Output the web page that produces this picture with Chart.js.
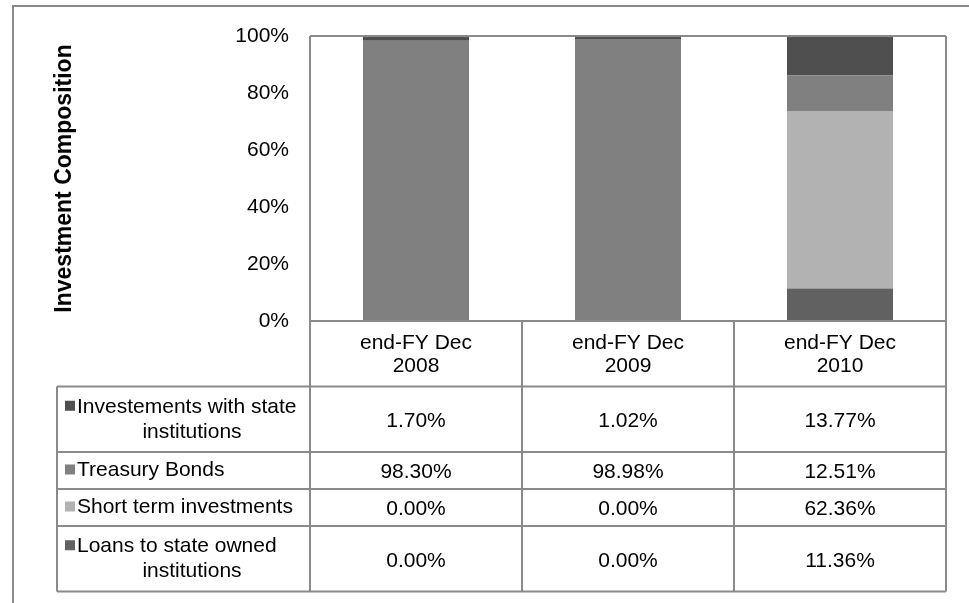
<!DOCTYPE html>
<html>
<head>
<meta charset="utf-8">
<title>Investment Composition</title>
<script src="https://cdn.jsdelivr.net/npm/chart.js@4.4.1/dist/chart.umd.min.js"></script>
<style>
  body { margin: 0; background: #fff; }
  #chart { display: block; }
</style>
</head>
<body>
<canvas id="chart" width="969" height="603"></canvas>
<script>
// 数据
const categories = [['end-FY Dec', '2008'], ['end-FY Dec', '2009'], ['end-FY Dec', '2010']];
const yTicks = [0, 20, 40, 60, 80, 100];

const investStateInstitutions = [1.70, 1.02, 13.77];
const treasuryBonds = [98.30, 98.98, 12.51];
const shortTermInvestments = [0.00, 0.00, 62.36];
const loansStateOwned = [0.00, 0.00, 11.36];

// 表格行顺序（从上到下）
const seriesLabels = [
    ['Investements with state', 'institutions'],
    ['Treasury Bonds'],
    ['Short term investments'],
    ['Loans to state owned', 'institutions']
];
const seriesColors = ['#4f4f4f', '#808080', '#b2b2b2', '#616161'];
const tableRows = [investStateInstitutions, treasuryBonds, shortTermInvestments, loansStateOwned];

const FONT = '21px "Liberation Sans", Arial, sans-serif';
const LINE_COLOR = '#8a8a8a';

// 堆叠顺序：第一个数据集在最底部
const datasets = tableRows.map((data, i) => ({
    label: seriesLabels[i].join(' '),
    data: data,
    backgroundColor: seriesColors[i],
    borderWidth: 0,
    categoryPercentage: 0.5,
    barPercentage: 1.0
})).reverse();

function rowHeight(lines) {
    return 37 + (lines - 1) * 28.5;
}

function line(ctx, x1, y1, x2, y2) {
    ctx.beginPath();
    ctx.moveTo(x1, y1);
    ctx.lineTo(x2, y2);
    ctx.stroke();
}

// 外框
const frame = {
    id: 'frame',
    beforeDraw(chart) {
        const ctx = chart.ctx;
        ctx.save();
        ctx.fillStyle = '#fff';
        ctx.fillRect(0, 0, chart.width, chart.height);
        ctx.strokeStyle = LINE_COLOR;
        ctx.lineWidth = 2;
        ctx.strokeRect(13, 6, 1000, 700);
        ctx.restore();
    }
};

// 绘图区边框 + 数据表
const dataTable = {
    id: 'dataTable',
    afterDatasetsDraw(chart) {
        const ctx = chart.ctx;
        const area = chart.chartArea;
        const xs = chart.scales.x;
        const colW = xs.getPixelForValue(1) - xs.getPixelForValue(0);
        const legendLeft = 57;

        // 行边界
        const rowTops = [area.bottom];
        rowTops.push(area.bottom + rowHeight(2));
        seriesLabels.forEach(lbl => {
            rowTops.push(rowTops[rowTops.length - 1] + rowHeight(lbl.length));
        });
        const tableBottom = rowTops[rowTops.length - 1];

        ctx.save();
        ctx.strokeStyle = LINE_COLOR;
        ctx.lineWidth = 2;

        // 绘图区
        line(ctx, area.left, area.top, area.right, area.top);
        line(ctx, area.left, area.bottom, area.right, area.bottom);
        line(ctx, area.left, area.top, area.left, tableBottom);
        line(ctx, area.right, area.top, area.right, tableBottom);

        // 列分隔
        for (let i = 1; i < categories.length; i++) {
            const x = xs.getPixelForValue(i) - colW / 2;
            line(ctx, x, area.bottom, x, tableBottom);
        }
        // 行分隔
        for (let r = 1; r < rowTops.length; r++) {
            line(ctx, legendLeft, rowTops[r], area.right, rowTops[r]);
        }
        line(ctx, legendLeft, rowTops[1], legendLeft, tableBottom);

        ctx.font = FONT;
        ctx.fillStyle = '#000';
        ctx.textBaseline = 'middle';
        ctx.textAlign = 'center';

        // 表头
        categories.forEach((cat, i) => {
            const cx = xs.getPixelForValue(i);
            const cy = (rowTops[0] + rowTops[1]) / 2;
            cat.forEach((t, k) => {
                ctx.fillText(t, cx, cy + (k - (cat.length - 1) / 2) * 23 + 1);
            });
        });

        // 数据行
        seriesLabels.forEach((lbl, r) => {
            const top = rowTops[r + 1];
            const cy = (top + rowTops[r + 2]) / 2;
            const n = lbl.length;

            tableRows[r].forEach((v, i) => {
                ctx.textAlign = 'center';
                ctx.fillStyle = '#000';
                ctx.fillText(v.toFixed(2) + '%', xs.getPixelForValue(i), cy + 2);
            });

            // 图例色块与名称
            const keyX = legendLeft + 8;
            const textX = keyX + 12;
            const midX = (textX + area.left - 3) / 2;
            lbl.forEach((t, k) => {
                const ly = cy + (k - (n - 1) / 2) * 25;
                if (k === 0) {
                    ctx.fillStyle = seriesColors[r];
                    ctx.fillRect(keyX, ly - 6, 10, 10);
                    ctx.fillStyle = '#000';
                    ctx.textAlign = 'left';
                    ctx.fillText(t, textX, ly);
                } else {
                    ctx.fillStyle = '#000';
                    ctx.textAlign = 'center';
                    ctx.fillText(t, midX, ly);
                }
            });
        });
        ctx.restore();
    }
};

new Chart(document.getElementById('chart'), {
    type: 'bar',
    data: {
        labels: categories,
        datasets: datasets
    },
    options: {
        responsive: false,
        animation: false,
        layout: {
            padding: { top: 36, right: 23, bottom: 282, left: 0 }
        },
        plugins: {
            legend: { display: false },
            tooltip: { enabled: false }
        },
        scales: {
            x: {
                stacked: true,
                display: false
            },
            y: {
                stacked: true,
                min: 0,
                max: 100,
                afterBuildTicks: scale => {
                    scale.ticks = yTicks.map(v => ({ value: v }));
                },
                afterFit: scale => {
                    scale.width = 310;
                },
                grid: { display: false, drawTicks: false },
                border: { display: false },
                ticks: {
                    padding: 21,
                    color: '#000',
                    font: { family: '"Liberation Sans", Arial, sans-serif', size: 21 },
                    callback: v => v + '%'
                },
                title: {
                    display: true,
                    text: 'Investment Composition',
                    color: '#000',
                    font: { family: '"Liberation Sans", Arial, sans-serif', size: 23, weight: 'bold' },
                    padding: { top: 51, bottom: 0 }
                }
            }
        }
    },
    plugins: [frame, dataTable]
});
</script>
</body>
</html>
